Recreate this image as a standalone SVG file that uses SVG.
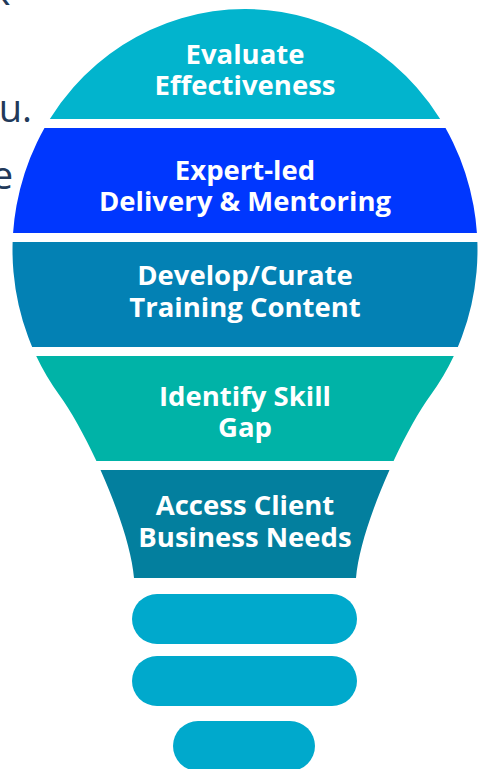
<svg xmlns="http://www.w3.org/2000/svg" width="478" height="769" viewBox="0 0 478 769">
<style>
.lbl{font-family:"Open Sans","Liberation Sans",sans-serif;font-weight:700;font-size:27.5px;fill:#ffffff;text-anchor:middle}
.bg{font-family:"Open Sans","Liberation Sans",sans-serif;font-size:38px;fill:#22395a;text-anchor:end}
.pill{fill:#00a9cc}
</style>
<defs>
<path id="bulb" d="M245,9 A232.5,241 0 0 0 59.3,395 C88.4,435 130,528 134,578 L356,578 C360,528 401.6,435 430.7,395 A232.5,241 0 0 0 245,9 Z"/>
<clipPath id="c1"><rect x="0" y="0" width="478" height="119"/></clipPath>
<clipPath id="c2"><rect x="0" y="128" width="478" height="105"/></clipPath>
<clipPath id="c3"><rect x="0" y="242" width="478" height="105"/></clipPath>
<clipPath id="c4"><rect x="0" y="356" width="478" height="105"/></clipPath>
<clipPath id="c5"><rect x="0" y="470" width="478" height="108"/></clipPath>
</defs>
<rect width="478" height="769" fill="#ffffff"/>
<g id="background-text">
<text class="bg" x="10" y="5">k</text>
<text class="bg" x="32" y="122">u.</text>
<text class="bg" x="13" y="189">e</text>
</g>
<g id="connectors"></g>
<g id="evaluate">
<use href="#bulb" clip-path="url(#c1)" fill="#02b4cd"/>
<text class="lbl" x="245" y="64">Evaluate</text>
<text class="lbl" x="245" y="95">Effectiveness</text>
</g>
<g id="delivery">
<use href="#bulb" clip-path="url(#c2)" fill="#0037fe"/>
<text class="lbl" x="245" y="180">Expert-led</text>
<text class="lbl" x="245" y="211">Delivery &amp; Mentoring</text>
</g>
<g id="develop">
<use href="#bulb" clip-path="url(#c3)" fill="#0381b4"/>
<text class="lbl" x="245" y="285">Develop/Curate</text>
<text class="lbl" x="245" y="317">Training Content</text>
</g>
<g id="identify">
<use href="#bulb" clip-path="url(#c4)" fill="#00b3a7"/>
<text class="lbl" x="245" y="406">Identify Skill</text>
<text class="lbl" x="245" y="437">Gap</text>
</g>
<g id="access">
<use href="#bulb" clip-path="url(#c5)" fill="#037f9e"/>
<text class="lbl" x="245" y="515">Access Client</text>
<text class="lbl" x="245" y="547">Business Needs</text>
</g>
<g id="base">
<rect class="pill" x="132" y="594" width="225" height="50" rx="25"/>
<rect class="pill" x="132" y="656" width="225" height="50" rx="25"/>
<rect class="pill" x="173" y="721" width="142" height="50" rx="25"/>
</g>
</svg>
